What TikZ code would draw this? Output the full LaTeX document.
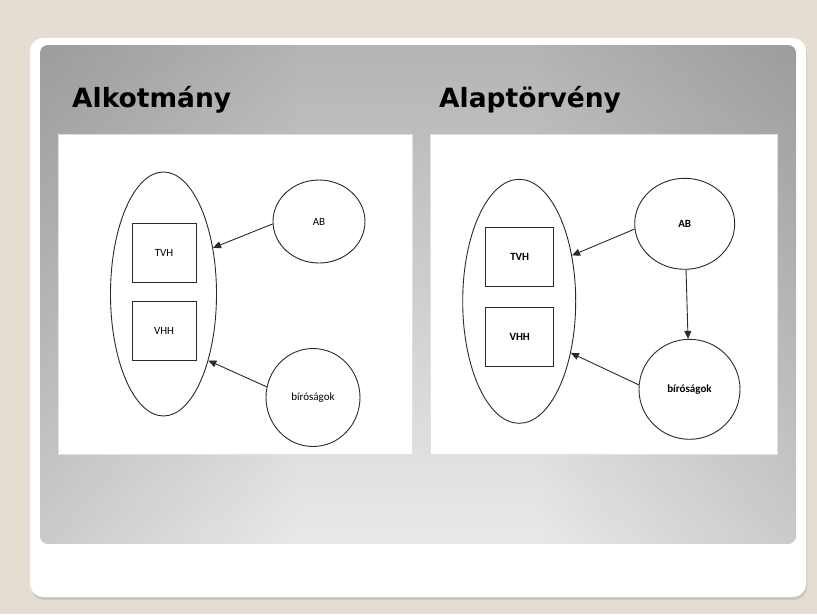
\documentclass[tikz,border=0pt]{standalone}
\usepackage{fontspec}
\setmainfont{Carlito}
\newfontfamily\headfont{DejaVu Sans}
\usetikzlibrary{positioning,shapes.geometric,arrows.meta,fadings}

\definecolor{slidebeige}{HTML}{E3DDD2}
\definecolor{panelgrey}{HTML}{B4B4B4}
\definecolor{panellight}{HTML}{E9E9E9}
\definecolor{inkgrey}{HTML}{2A2A2A}

\tikzset{
  blob/.style={draw=inkgrey, line width=.9pt, ellipse, inner sep=0pt},
  house/.style={draw=inkgrey, line width=.9pt, rectangle, inner sep=0pt,
    minimum height=59pt},
  smalltxt/.style={font=\fontsize{11}{13}\selectfont},
  boldtxt/.style={font=\fontsize{11}{13}\selectfont\bfseries},
  link/.style={draw=inkgrey, line width=.9pt, -{Triangle[length=8pt,width=7pt]}},
  heading/.style={font=\headfont\bfseries\fontsize{26.5}{30}\selectfont,
    anchor=base west, inner sep=0pt}
}

\begin{document}
\begin{tikzpicture}[x=1pt,y=-1pt]

% slide background

\useasboundingbox (0,0) rectangle (817,614);
\fill[slidebeige] (0,0) rectangle (817,614);
\fill[black!22, rounded corners=13pt] (31,41) rectangle (807,600);
\fill[white, rounded corners=13pt] (30,38) rectangle (806,597);
\shade[top color=panelgrey, bottom color=panellight, rounded corners=8pt] (40,45) rectangle (796,544);
\begin{scope}
  \clip[rounded corners=8pt] (40,45) rectangle (796,544);
  \fill[black, opacity=.13, path fading=east] (40,45) rectangle (300,544);
  \fill[black, opacity=.13, path fading=west] (536,45) rectangle (796,544);
\end{scope}

% titles

\node[heading] (tleft) at (72,107) {Alkotmány};
\node[heading] (tright) at (439,107) {Alaptörvény};

% white panels

\fill[white, draw=black!12] (58,134) rectangle (412,454);
\fill[white, draw=black!12] (430,134) rectangle (777,454);

% define nodes

% old constitution
\node[blob, minimum width=106pt, minimum height=244pt] (lell) at (163.5,294) {};
\node[house, smalltxt, minimum width=64pt] (ltvh) at (164,252.5) {TVH};
\node[house, smalltxt, minimum width=64pt, below=19pt of ltvh] (lvhh) {VHH};
\node[blob, smalltxt, minimum width=92pt, minimum height=83pt] (lab) at (319,221.5) {AB};
\node[blob, smalltxt, minimum width=94pt, minimum height=98pt] (lbir) at (313,397.5) {\raisebox{-8pt}{bíróságok}};
% fundamental law
\node[blob, minimum width=113pt, minimum height=244pt] (rell) at (519.2,301.3) {};
\node[house, boldtxt, minimum width=68pt] (rtvh) at (519.7,257.3) {TVH};
\node[house, boldtxt, minimum width=68pt, below=20pt of rtvh] (rvhh) {VHH};
\node[blob, boldtxt, minimum width=100pt, minimum height=91pt] (rab) at (684.7,223.8) {AB};
\node[blob, boldtxt, minimum width=101pt, minimum height=100pt] (rbir) at (689.5,389.3) {\raisebox{-4pt}{bíróságok}};

% edges

\draw[link] (lab.183) -- (lell.43);
\draw[link] (lbir.167) -- (lell.304);

\draw[link] (rab.186) -- (rell.41);
\draw[link] (rbir.175) -- (rell.315);
\draw[link] (rab) -- (rbir);

\end{tikzpicture}
\end{document}
